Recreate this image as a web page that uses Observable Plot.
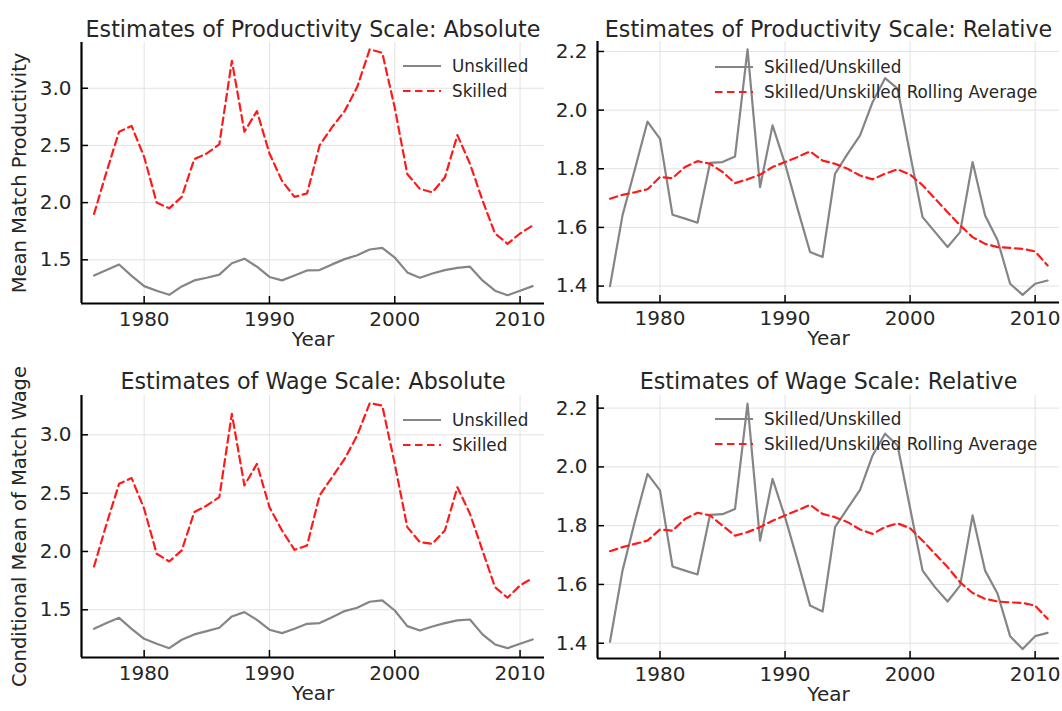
<!DOCTYPE html>
<html>
<head>
<meta charset="utf-8">
<script src="https://cdn.jsdelivr.net/npm/d3@7"></script>
<script src="https://cdn.jsdelivr.net/npm/@observablehq/plot@0.6"></script>
<style>
  html, body { margin: 0; padding: 0; background: #fff; }
  #root { position: relative; width: 1062px; height: 711px; overflow: hidden; font-family: "DejaVu Sans", sans-serif; }
  .panel { position: absolute; }
  .panel svg { overflow: visible; }
  #legend { position: absolute; left: 0; top: 0; pointer-events: none; }
</style>
</head>
<body>
<div id="root"></div>
<script>
// ---------------- data ----------------
const years = [1976,1977,1978,1979,1980,1981,1982,1983,1984,1985,1986,1987,1988,1989,1990,1991,1992,1993,
               1994,1995,1996,1997,1998,1999,2000,2001,2002,2003,2004,2005,2006,2007,2008,2009,2010,2011];

const prodUnskilled = [1.363,1.41,1.459,1.36,1.27,1.23,1.194,1.267,1.32,1.343,1.37,1.47,1.51,1.44,1.35,1.32,1.363,1.407,
                       1.41,1.46,1.506,1.54,1.59,1.605,1.52,1.39,1.343,1.38,1.41,1.43,1.44,1.32,1.23,1.19,1.23,1.27];
const prodSkilled   = [1.90,2.27,2.62,2.67,2.40,2.00,1.95,2.05,2.38,2.43,2.51,3.24,2.62,2.80,2.43,2.19,2.05,2.08,
                       2.50,2.66,2.80,3.01,3.34,3.31,2.83,2.25,2.12,2.09,2.22,2.59,2.34,2.02,1.73,1.64,1.73,1.80];
const prodRatio     = [1.40,1.641,1.80,1.961,1.902,1.643,1.63,1.616,1.82,1.823,1.842,2.207,1.737,1.948,1.817,1.664,1.516,1.499,
                       1.783,1.851,1.914,2.027,2.109,2.073,1.85,1.635,1.584,1.533,1.584,1.823,1.641,1.556,1.408,1.370,1.408,1.419];
const prodRolling   = [1.698,1.711,1.720,1.730,1.772,1.768,1.806,1.826,1.817,1.789,1.751,1.764,1.780,1.806,1.823,1.840,1.859,1.828,
                       1.817,1.800,1.777,1.764,1.783,1.798,1.780,1.744,1.698,1.652,1.607,1.567,1.544,1.533,1.530,1.527,1.518,1.470];

const wageUnskilled = [1.337,1.386,1.431,1.337,1.251,1.209,1.171,1.243,1.289,1.317,1.346,1.443,1.48,1.414,1.329,1.30,1.337,1.38,
                       1.386,1.437,1.489,1.517,1.569,1.58,1.494,1.36,1.323,1.357,1.386,1.409,1.417,1.289,1.203,1.171,1.209,1.246];
const wageSkilled   = [1.871,2.237,2.58,2.629,2.366,1.98,1.914,2.009,2.337,2.394,2.466,3.18,2.566,2.751,2.38,2.18,2.014,2.051,
                       2.48,2.637,2.794,2.994,3.271,3.251,2.75,2.209,2.08,2.066,2.18,2.551,2.323,2.009,1.694,1.603,1.709,1.771];
const wageRatio     = [1.405,1.647,1.817,1.976,1.92,1.661,1.647,1.634,1.837,1.839,1.857,2.215,1.749,1.959,1.829,1.681,1.528,1.508,
                       1.795,1.859,1.922,2.039,2.113,2.073,1.86,1.647,1.590,1.542,1.596,1.835,1.647,1.568,1.424,1.380,1.424,1.435];
const wageRolling   = [1.713,1.727,1.738,1.749,1.787,1.783,1.823,1.844,1.835,1.80,1.766,1.778,1.795,1.817,1.835,1.852,1.871,1.84,
                       1.829,1.812,1.787,1.772,1.795,1.808,1.791,1.749,1.704,1.659,1.607,1.571,1.551,1.542,1.539,1.537,1.528,1.483];

const xTicks = [1980, 1990, 2000, 2010];
const absTicks = [1.5, 2.0, 2.5, 3.0];
const relTicks = [1.4, 1.6, 1.8, 2.0, 2.2];

const titles = ["Estimates of Productivity Scale: Absolute", "Estimates of Productivity Scale: Relative",
                "Estimates of Wage Scale: Absolute", "Estimates of Wage Scale: Relative"];
const yLabels = ["Mean Match Productivity", "", "Conditional Mean of Match Wage", ""];
const absNames = ["Unskilled", "Skilled"];
const relNames = ["Skilled/Unskilled", "Skilled/Unskilled Rolling Average"];
const xLabel = "Year";

// ---------------- styles ----------------
const GRAY = "#858585";
const RED = "#ff1a1a";
const TEXT = "#262626";
const xDomain = [1975, 2011.95];

function makePanel(cfg) {
  const rows = s => years.map((yr, i) => ({year: yr, value: s[i]}));
  const marks = [
    Plot.gridX(xTicks, {stroke: "#e2e2e2", strokeOpacity: 1, strokeWidth: 1}),
    Plot.gridY(cfg.yTicks, {stroke: "#e2e2e2", strokeOpacity: 1, strokeWidth: 1}),
    Plot.axisX(xTicks, {tickSize: -7, tickPadding: 15.5, strokeWidth: 1.5, fontSize: 20, fill: TEXT, tickFormat: d => String(d), label: null}),
    Plot.axisY(cfg.yTicks, {tickSize: -7, tickPadding: 17, strokeWidth: 1.5, fontSize: 20, fill: TEXT, tickFormat: d => d.toFixed(1), label: null}),
    Plot.ruleX([xDomain[0]], {stroke: "#000", strokeWidth: 2.2}),
    Plot.ruleY([cfg.yDomain[0]], {stroke: "#000", strokeWidth: 2.2}),
    Plot.line(rows(cfg.s1), {x: "year", y: "value", stroke: GRAY, strokeWidth: 2.2}),
    Plot.line(rows(cfg.s2), {x: "year", y: "value", stroke: RED, strokeWidth: 2.2, strokeDasharray: "7.5,4.5"}),
    Plot.text([cfg.title], {frameAnchor: "top", dy: cfg.titleDy, fontSize: 22.2, fill: TEXT, text: d => d}),
    Plot.text([xLabel], {frameAnchor: "bottom", dy: 42, fontSize: 20, fill: TEXT, text: d => d})
  ];
  if (cfg.ylabel) {
    marks.push(Plot.text([cfg.ylabel], {frameAnchor: "left", textAnchor: "middle", dx: -62, rotate: -90, fontSize: 19.5, fill: TEXT, text: d => d}));
  }
  const chart = Plot.plot({
    width: cfg.w, height: cfg.h,
    marginLeft: cfg.ml, marginRight: cfg.mr, marginTop: cfg.mt, marginBottom: cfg.mb,
    x: {domain: xDomain, axis: null},
    y: {domain: cfg.yDomain, axis: null},
    style: {fontFamily: "DejaVu Sans, sans-serif", background: "transparent", overflow: "visible"},
    marks
  });
  const div = document.createElement("div");
  div.className = "panel";
  div.style.left = cfg.left + "px";
  div.style.top = cfg.top + "px";
  div.appendChild(chart);
  document.getElementById("root").appendChild(div);
}

makePanel({left: 0, top: 0, w: 552, h: 358, ml: 81, mr: 8, mt: 42, mb: 55,
  yDomain: [1.118, 3.40], yTicks: absTicks, s1: prodUnskilled, s2: prodSkilled,
  title: titles[0], ylabel: yLabels[0], titleDy: -21.5});
makePanel({left: 552, top: 0, w: 510, h: 358, ml: 45, mr: 3, mt: 41, mb: 56,
  yDomain: [1.344, 2.234], yTicks: relTicks, s1: prodRatio, s2: prodRolling,
  title: titles[1], ylabel: yLabels[1], titleDy: -20.5});
makePanel({left: 0, top: 358, w: 552, h: 353, ml: 81, mr: 8, mt: 37, mb: 54,
  yDomain: [1.091, 3.337], yTicks: absTicks, s1: wageUnskilled, s2: wageSkilled,
  title: titles[2], ylabel: yLabels[2], titleDy: -22});
makePanel({left: 552, top: 358, w: 510, h: 353, ml: 45, mr: 3, mt: 37, mb: 53,
  yDomain: [1.348, 2.243], yTicks: relTicks, s1: wageRatio, s2: wageRolling,
  title: titles[3], ylabel: yLabels[3], titleDy: -22});

// ---------------- legends (overlay) ----------------
const legends = [
  {x: 403, y: 66, names: absNames},
  {x: 715, y: 67, names: relNames},
  {x: 403, y: 420, names: absNames},
  {x: 715, y: 419, names: relNames}
];
const svg = d3.select("#root").append("svg").attr("id", "legend").attr("width", 1062).attr("height", 711);
legends.forEach(L => {
  L.names.forEach((name, i) => {
    const y = L.y + i * 25;
    svg.append("line").attr("x1", L.x).attr("x2", L.x + 38).attr("y1", y).attr("y2", y)
      .attr("stroke", i === 0 ? GRAY : RED).attr("stroke-width", 2.2)
      .attr("stroke-dasharray", i === 0 ? null : "7.5,4.5");
    svg.append("text").attr("x", L.x + 49).attr("y", y).attr("dy", "0.35em")
      .attr("font-family", "DejaVu Sans, sans-serif").attr("font-size", 16.8).attr("fill", TEXT).text(name);
  });
});
</script>
</body>
</html>
